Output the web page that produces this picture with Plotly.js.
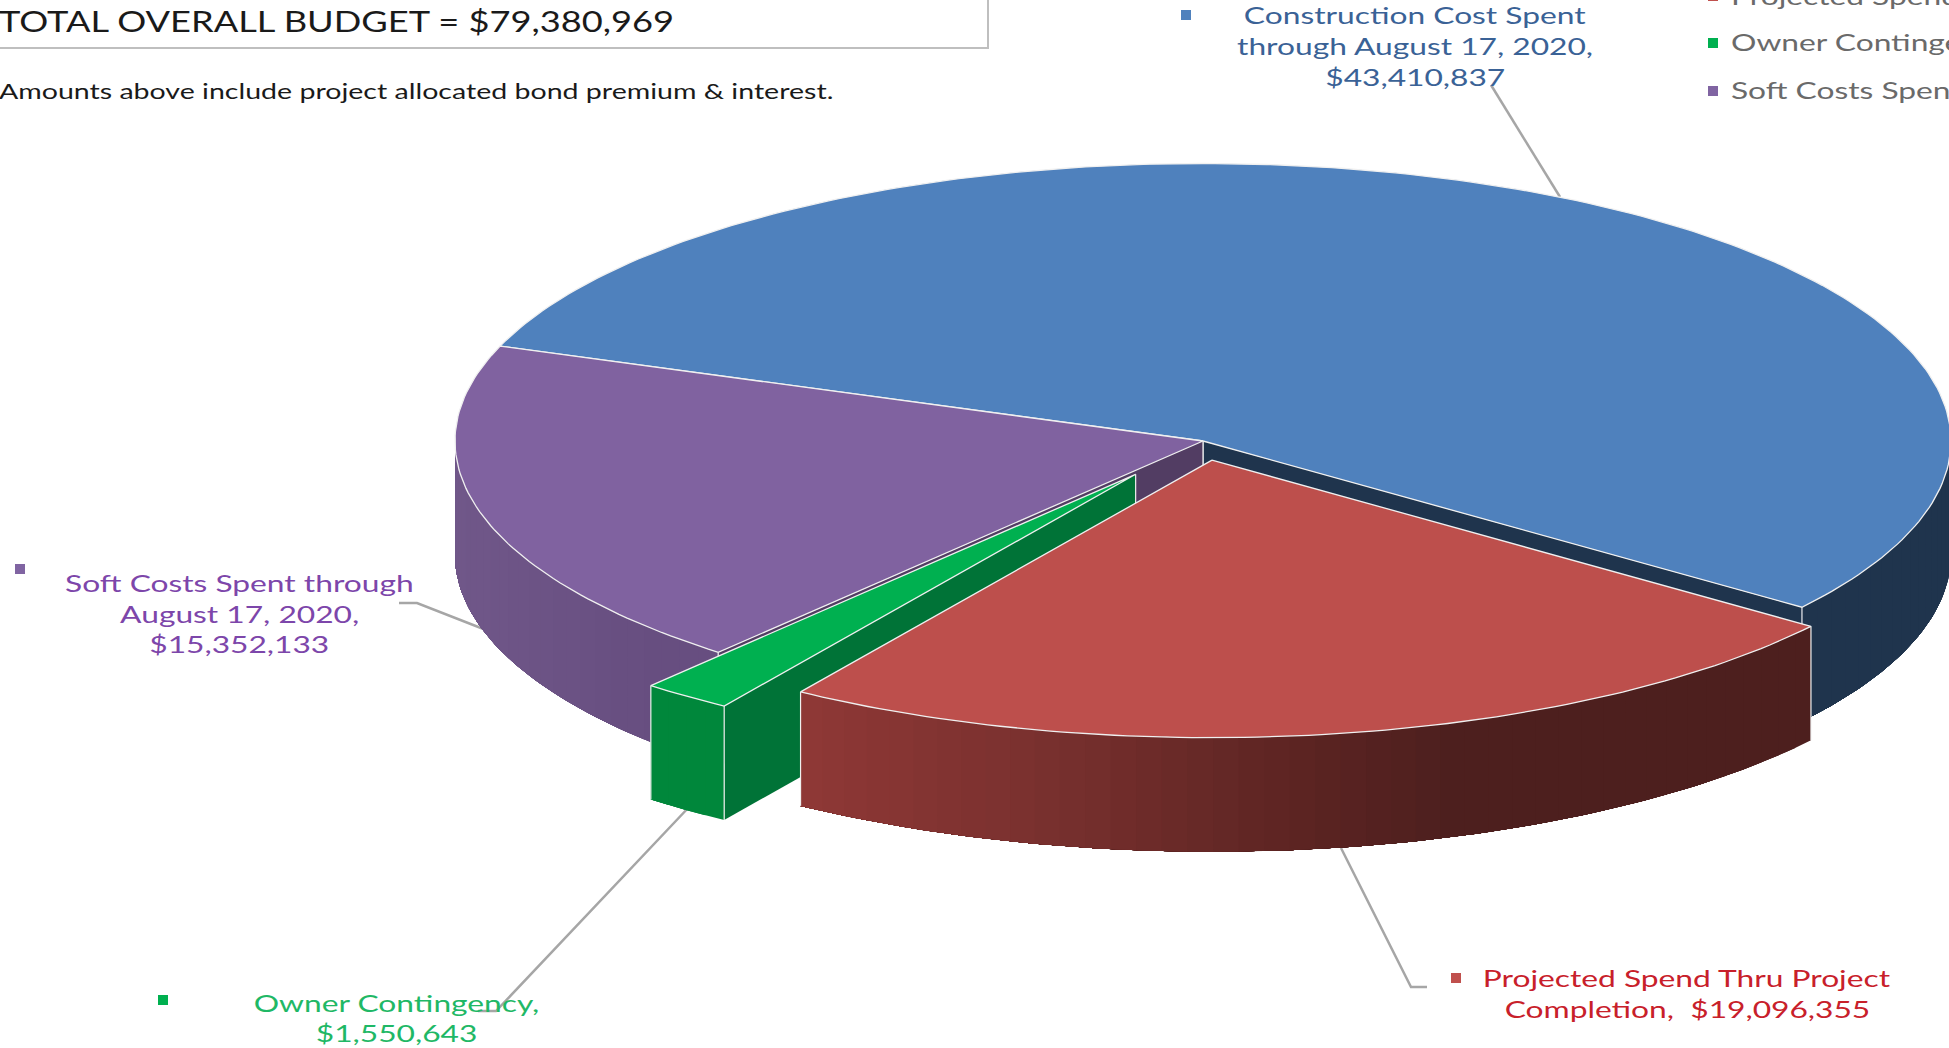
<!DOCTYPE html>
<html>
<head>
<meta charset="utf-8">
<script src="https://cdn.plot.ly/plotly-3.0.1.min.js"></script>
<style>html,body{margin:0;padding:0;background:#fff;overflow:hidden}#chart{width:1949px;height:1048px}</style>
</head>
<body>
<div id="chart"></div>
<script>
// Budget breakdown, clockwise from the first slice
const categories = ['Construction Cost Spent', 'Projected Spend', 'Owner Contingency', 'Soft Costs Spent'];
const amounts = [43410837, 19096355, 1550643, 15352133];

// Slice styling: top face, radial wall, and rim shade stops [x, colour]
const topColors = ['#4f81bd', '#bd4f4c', '#00b050', '#8062a0'];
const wallColors = ['#1f344d', '#4e1f1e', '#007337', '#523d63'];
const rimStops = [
  [[0, [31, 52, 77]], [1949, [31, 52, 77]]],
  [[799, [143, 56, 54]], [1050, [120, 48, 46]], [1300, [92, 36, 34]], [1450, [77, 31, 30]], [1949, [77, 31, 30]]],
  [[0, [0, 135, 59]], [1949, [0, 135, 59]]],
  [[455, [112, 87, 137]], [650, [103, 78, 128]], [1949, [103, 78, 128]]]
];
const explodeBy = [0, 0.07, 0.15, 0];
const paintOrder = [0, 3, 2, 1];

// Projection of the tilted pie onto the page
const centre = {x: 1203, y: 441};
const radiusX = 748, radiusY = 277.5, depth = 114;
const firstAngle = 290;

const rad = d => d * Math.PI / 180;
const total = amounts.reduce((a, b) => a + b, 0);

let cursor = firstAngle;
const slices = amounts.map((v, i) => {
  const start = cursor, end = cursor + v / total * 360;
  cursor = end;
  const mid = rad((start + end) / 2);
  return {
    i, start, end,
    ox: centre.x + radiusX * explodeBy[i] * Math.sin(mid),
    oy: centre.y - radiusY * explodeBy[i] * Math.cos(mid)
  };
});

const edge = (s, a) => [s.ox + radiusX * Math.sin(rad(a)), s.oy - radiusY * Math.cos(rad(a))];
const faces = a => Math.cos(rad(a)) < 0;

function shade(stops, x) {
  for (let k = 1; k < stops.length; k++) {
    if (x <= stops[k][0]) {
      const [x0, c0] = stops[k - 1], [x1, c1] = stops[k];
      const t = Math.max(0, (x - x0) / (x1 - x0));
      return 'rgb(' + c0.map((c, j) => Math.round(c + (c1[j] - c) * t)).join(',') + ')';
    }
  }
  return 'rgb(' + stops[stops.length - 1][1].join(',') + ')';
}

const base = {type: 'scatter', mode: 'lines', hoverinfo: 'skip', showlegend: false};
const poly = (pts, fill, line) => Object.assign({}, base, {
  x: pts.map(p => p[0]), y: pts.map(p => p[1]), fill: 'toself', fillcolor: fill,
  line: line || {color: fill, width: 0}
});
const stroke = (pts, color, width) => Object.assign({}, base, {
  x: pts.map(p => p[0]), y: pts.map(p => p[1]), line: {color, width}
});

const traces = [];

// Leader lines run underneath the pie
const leaders = [
  [[1491, 85], [1560, 197]],
  [[1341, 848], [1411, 987], [1427, 987]],
  [[478, 1011], [496, 1011], [690, 806]],
  [[399, 603], [417, 603], [486, 630]]
];
leaders.forEach(l => traces.push(stroke(l, '#a6a6a6', 2.5)));

const edgeLine = '#f0f0f0';
paintOrder.forEach(idx => {
  const s = slices[idx];
  const tip = [s.ox, s.oy];
  const drop = p => [p[0], p[1] + depth];

  // Radial walls that face the viewer
  [[s.start, s.start - 90], [s.end, s.end + 90]].forEach(([a, normal]) => {
    if (!faces(normal)) return;
    const p = edge(s, a);
    traces.push(poly([tip, p, drop(p), drop(tip), tip], wallColors[idx]));
    traces.push(stroke([tip, drop(tip)], edgeLine, 1.2));
  });

  // Curved rim: each band runs on to the slice's end and is overpainted by the
  // next, so the shade changes without seams between bands
  const span = s.end - s.start, n = Math.ceil(span / 2);
  const fine = Math.ceil(span);
  const arc = (a0, a1) => {
    const out = [], steps = Math.max(1, Math.ceil((a1 - a0) / (span / fine)));
    for (let k = 0; k <= steps; k++) out.push(edge(s, a0 + (a1 - a0) * k / steps));
    return out;
  };
  let lastFront = s.end;
  for (let a = s.end; a > s.start; a -= 0.5) { if (faces(a)) { lastFront = a; break; } }
  for (let k = 0; k < n; k++) {
    const a0 = s.start + span * k / n, a1 = s.start + span * (k + 1) / n;
    if (!faces((a0 + a1) / 2)) continue;
    const upper = arc(a0, lastFront);
    const lower = upper.map(drop).reverse();
    const midX = (edge(s, a0)[0] + edge(s, a1)[0]) / 2;
    traces.push(poly(upper.concat(lower, [upper[0]]), shade(rimStops[idx], midX)));
  }
  [s.start, s.end].forEach(a => {
    if (!faces(a)) return;
    const p = edge(s, a);
    traces.push(stroke([p, drop(p)], edgeLine, 1.2));
  });

  // Top face
  const top = [tip];
  for (let k = 0; k <= fine; k++) top.push(edge(s, s.start + span * k / fine));
  top.push(tip);
  traces.push(poly(top, topColors[idx], {color: edgeLine, width: 1.3}));
});

// Square keys beside the labels
const keyX = [1186, 1456, 163, 20, 1713, 1713, 1713];
const keyY = [15, 978, 1000, 569, -4, 43, 91];
const keyColors = ['#4f81bd', '#c0504d', '#00b050', '#8064a2', '#c0504d', '#00b050', '#8064a2'];
traces.push(Object.assign({}, base, {
  mode: 'markers', x: keyX, y: keyY,
  marker: {symbol: 'square', size: 10, color: keyColors, line: {width: 0}}
}));

// Text lines: [text, x, y, size, colour, anchor, horizontal stretch]
const labelFont = 'Lato, "Open Sans", sans-serif';
const textLines = [
  ['TOTAL OVERALL BUDGET = $79,380,969', 0, 20, 29, '#1a1a1a', 'left', 1.25],
  ['Amounts above include project allocated bond premium & interest.', 0, 90, 21, '#1a1a1a', 'left', 1.36],
  ['Construction Cost Spent', 1415, 15, 23, '#3a6296', 'center', 1.38],
  ['through August 17, 2020,', 1415, 46, 23, '#3a6296', 'center', 1.38],
  ['$43,410,837', 1415, 77, 23, '#3a6296', 'center', 1.38],
  ['Projected Spend Thru Project', 1687, 978, 23, '#c8202a', 'center', 1.38],
  ['Completion,\u00a0\u00a0$19,096,355', 1687, 1009, 23, '#c8202a', 'center', 1.38],
  ['Owner Contingency,', 396, 1003, 23, '#1fb866', 'center', 1.38],
  ['$1,550,643', 396, 1033, 23, '#1fb866', 'center', 1.38],
  ['Soft Costs Spent through', 239, 583, 23, '#7d46aa', 'center', 1.38],
  ['August 17, 2020,', 239, 614, 23, '#7d46aa', 'center', 1.38],
  ['$15,352,133', 239, 644, 23, '#7d46aa', 'center', 1.38],
  ['Projected Spend', 1729, 0, 23, '#6a6a6a', 'left', 1.38],
  ['Owner Contingency', 1729, 42, 23, '#6a6a6a', 'left', 1.38],
  ['Soft Costs Spent', 1729, 90, 23, '#6a6a6a', 'left', 1.38]
];

const annotations = textLines.map(([text, x, y, size, color, anchor]) => ({
  text, x, y: Math.max(y, 0), xref: 'x', yref: 'y', showarrow: false,
  xanchor: anchor, yanchor: 'middle', xshift: x === 0 ? -3 : 0, yshift: y === 0 ? 4 : 0,
  align: anchor, font: {family: labelFont, size, color}
}));

const layout = {
  width: 1949, height: 1048,
  margin: {l: 0, r: 0, t: 0, b: 0},
  paper_bgcolor: '#fff', plot_bgcolor: '#fff',
  xaxis: {visible: false, range: [0, 1949], fixedrange: true},
  yaxis: {visible: false, range: [1048, 0], fixedrange: true},
  shapes: [{type: 'rect', xref: 'x', yref: 'y', x0: -20, y0: -20, x1: 988, y1: 48, line: {color: '#bfbfbf', width: 2}}],
  annotations
};

Plotly.newPlot('chart', traces, layout, {displayModeBar: false, staticPlot: true}).then(() => {
  // The labels are set in a wide cut: stretch each line about its anchor
  document.querySelectorAll('#chart .annotation-text').forEach((el, i) => {
    const box = el.getBBox(), [, , , , , anchor, sx] = textLines[i];
    const pivot = anchor === 'left' ? box.x : box.x + box.width / 2;
    el.setAttribute('transform', `translate(${pivot} 0) scale(${sx} 1) translate(${-pivot} 0)`);
  });
});
</script>
</body>
</html>
